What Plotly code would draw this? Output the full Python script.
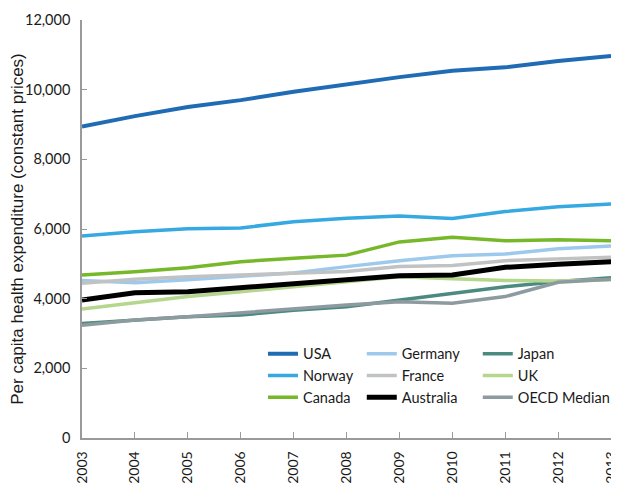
import plotly.graph_objects as go

years = list(range(2003, 2014))

usa = [8940, 9240, 9500, 9700, 9940, 10160, 10360, 10540, 10640, 10820, 10970]
norway = [5800, 5920, 6010, 6030, 6210, 6310, 6370, 6300, 6500, 6640, 6720]
canada = [4680, 4770, 4890, 5060, 5160, 5250, 5630, 5760, 5660, 5690, 5660]
germany = [4520, 4460, 4540, 4650, 4740, 4920, 5090, 5230, 5280, 5430, 5510]
france = [4440, 4560, 4630, 4680, 4730, 4780, 4920, 4950, 5090, 5130, 5190]
australia = [3960, 4170, 4200, 4320, 4440, 4560, 4660, 4680, 4900, 4990, 5060]
japan = [3290, 3390, 3480, 3530, 3670, 3770, 3960, 4130, 4340, 4490, 4600]
uk = [3700, 3890, 4060, 4200, 4340, 4490, 4630, 4570, 4520, 4510, 4540]
oecd = [3240, 3390, 3480, 3600, 3720, 3820, 3910, 3870, 4060, 4470, 4560]

# name, values, colour, width, legend column (drawing order: Australia last, on top)
series = [
    ("USA", usa, "#1f6cb4", 4, "legend"),
    ("Norway", norway, "#36a9e1", 3.5, "legend"),
    ("Canada", canada, "#77b82a", 3.5, "legend"),
    ("Germany", germany, "#9dcaec", 3.5, "legend2"),
    ("France", france, "#c0c2c3", 3.5, "legend2"),
    ("Japan", japan, "#4b8a80", 3.5, "legend3"),
    ("UK", uk, "#b4d68d", 3.5, "legend3"),
    ("OECD Median", oecd, "#8d9ba0", 3.5, "legend3"),
    ("Australia", australia, "#000000", 5, "legend2"),
]
legend_rank = {"USA": 1, "Norway": 2, "Canada": 3, "Germany": 1, "France": 2,
               "Australia": 3, "Japan": 1, "UK": 2, "OECD Median": 3}

fig = go.Figure()
for name, vals, col, w, leg in series:
    fig.add_trace(go.Scatter(
        x=years, y=vals, name=name, mode="lines",
        line=dict(color=col, width=w),
        legend=leg, legendrank=legend_rank[name],
    ))

font = "Lato, 'Open Sans', sans-serif"
legend_style = dict(font=dict(size=14.5, color="#1a1a1a", family=font),
                    bgcolor="rgba(0,0,0,0)", yanchor="middle", y=0.149,
                    xanchor="left", orientation="v", tracegroupgap=0)

# page body has an 8px margin, so the figure is sized to fit inside the window
fig.update_layout(
    width=611, height=478,
    margin=dict(l=74, r=0, t=12, b=48),
    plot_bgcolor="white", paper_bgcolor="white",
    font=dict(family=font, size=15, color="#1a1a1a"),
    legend=dict(x=0.337, **legend_style),
    legend2=dict(x=0.521, **legend_style),
    legend3=dict(x=0.737, **legend_style),
    xaxis=dict(
        range=[2003, 2013.15], tickvals=years, tickangle=-90,
        tickfont=dict(size=14),
        showline=True, linecolor="#9a9a9a", linewidth=1.5,
        ticks="inside", ticklen=6, tickcolor="#9a9a9a",
        showgrid=False, zeroline=False, ticklabelstandoff=6,
        automargin=False,
    ),
    yaxis=dict(
        range=[0, 12000], dtick=2000, tickformat=",d",
        tickfont=dict(size=14.5),
        showline=True, linecolor="#9a9a9a", linewidth=1.5,
        ticks="inside", ticklen=5, tickcolor="#9a9a9a",
        showgrid=False, zeroline=False, ticklabelstandoff=7,
        automargin=False,
        title=dict(text="Per capita health expenditure (constant prices)",
                   font=dict(size=17, family="'Liberation Sans', Arial, sans-serif"),
                   standoff=0),
    ),
)

fig.write_html("out.html")
